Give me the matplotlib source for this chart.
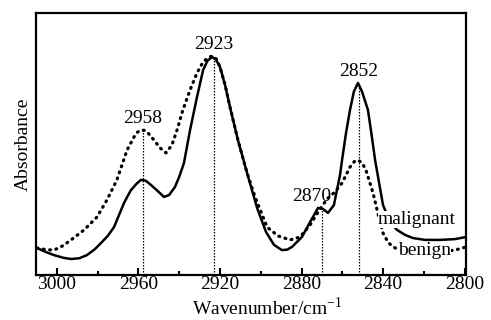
import matplotlib
matplotlib.use("Agg")
import matplotlib.pyplot as plt

plt.rcParams["font.family"] = ["Liberation Serif", "DejaVu Serif"]
plt.rcParams["mathtext.fontset"] = "custom"
plt.rcParams["mathtext.rm"] = "Liberation Serif"

# ---------------------------------------------------------------------------
# Data (absorbance in arbitrary units)
# ---------------------------------------------------------------------------

wn_malignant = [3009.8, 3005.5, 3001.5, 2997.0, 2993.1, 2989.0, 2985.3, 2981.5,
                2978.4, 2975.0, 2972.0, 2969.5, 2967.1, 2965.2, 2963.7, 2961.0,
                2958.8, 2956.5, 2953.9, 2950.5, 2947.5, 2945.0, 2942.1, 2940.0,
                2937.7, 2934.7, 2931.3, 2928.3, 2926.2, 2923.9, 2922.0, 2920.0,
                2917.5, 2915.1, 2911.2, 2906.7, 2901.8, 2897.4, 2893.5, 2889.6,
                2887.0, 2884.7, 2879.8, 2875.8, 2871.9, 2869.5, 2867.0, 2864.1,
                2861.1, 2860.1, 2858.2, 2856.2, 2854.3, 2852.3, 2850.3, 2847.4,
                2845.7, 2843.9, 2840.0, 2836.6, 2833.1, 2829.2, 2825.3, 2819.4,
                2812.0, 2804.7, 2799.3]
abs_malignant = [0.103, 0.088, 0.076, 0.066, 0.061, 0.064, 0.076, 0.098,
                 0.122, 0.150, 0.183, 0.230, 0.275, 0.303, 0.324, 0.348,
                 0.363, 0.360, 0.344, 0.320, 0.298, 0.305, 0.336, 0.375,
                 0.427, 0.553, 0.679, 0.782, 0.817, 0.832, 0.822, 0.794,
                 0.725, 0.641, 0.515, 0.389, 0.256, 0.164, 0.115, 0.095,
                 0.097, 0.107, 0.145, 0.202, 0.256, 0.252, 0.237, 0.267,
                 0.382, 0.439, 0.540, 0.630, 0.700, 0.733, 0.700, 0.630,
                 0.540, 0.439, 0.267, 0.202, 0.172, 0.153, 0.141, 0.134,
                 0.134, 0.137, 0.145]

wn_benign = [3009.8, 3005.5, 3001.5, 2997.0, 2993.1, 2986.7, 2980.4, 2975.5,
             2970.6, 2965.6, 2962.2, 2960.5, 2958.8, 2957.0, 2955.3, 2952.4,
             2949.4, 2946.5, 2943.6, 2941.1, 2938.2, 2934.7, 2931.3, 2928.3,
             2925.4, 2923.4, 2921.8, 2920.0, 2917.5, 2915.1, 2911.2, 2906.7,
             2902.8, 2896.9, 2891.5, 2885.6, 2880.7, 2875.8, 2871.9, 2867.5,
             2863.6, 2860.1, 2856.2, 2854.2, 2852.3, 2850.3, 2848.4, 2844.9,
             2842.5, 2840.0, 2837.5, 2835.1, 2829.2, 2821.8, 2812.0, 2804.7,
             2799.3]
abs_benign = [0.103, 0.097, 0.095, 0.112, 0.134, 0.172, 0.221, 0.286,
              0.363, 0.477, 0.527, 0.545, 0.553, 0.552, 0.542, 0.515,
              0.485, 0.466, 0.496, 0.553, 0.630, 0.706, 0.771, 0.813,
              0.832, 0.836, 0.824, 0.794, 0.725, 0.641, 0.515, 0.389,
              0.298, 0.183, 0.149, 0.134, 0.145, 0.191, 0.240, 0.290,
              0.317, 0.351, 0.412, 0.432, 0.439, 0.428, 0.401, 0.313,
              0.235, 0.160, 0.125, 0.107, 0.088, 0.084, 0.088, 0.095,
              0.107]

peak_wn = [2958, 2923, 2870, 2852]
peak_abs = [0.553, 0.836, 0.256, 0.733]
peak_labels = ["2958", "2923", "2870", "2852"]

xticks_major = [3000, 2960, 2920, 2880, 2840, 2800]
xticks_minor = [2980, 2940, 2900, 2860, 2820]

# ---------------------------------------------------------------------------
# Plot
# ---------------------------------------------------------------------------

fig = plt.figure(figsize=(4.91, 3.20), dpi=100)
ax = fig.add_axes([0.0733, 0.1406, 0.8757, 0.8188])

ax.plot(wn_malignant, abs_malignant, color="black", lw=1.8,
        solid_capstyle="round", solid_joinstyle="round")
ax.plot(wn_benign, abs_benign, color="black", lw=2.3,
        linestyle=(0, (0.3, 1.7)), dash_capstyle="round")

# vertical marker lines from each peak down to the axis
for wn, a, lab in zip(peak_wn, peak_abs, peak_labels):
    ax.plot([wn, wn], [0, a], color="black", lw=0.9, linestyle=(0, (1.2, 1.2)))
    dx = -7 if lab == "2870" else 0
    ax.annotate(lab, (wn, a), xytext=(dx, 2), textcoords="offset points",
                ha="center", va="bottom", fontsize=14)

ax.text(2842.5, 0.21, "malignant", fontsize=14, va="center", ha="left",
        bbox=dict(facecolor="white", edgecolor="none", pad=0))
ax.text(2832.7, 0.095, "benign", fontsize=14, va="center", ha="left",
        bbox=dict(facecolor="white", edgecolor="none", pad=0))

ax.set_xlim(3010.3, 2799.3)
ax.set_ylim(0, 1)
ax.set_xticks(xticks_major)
ax.set_xticklabels([str(t) for t in xticks_major])
ax.set_xticks(xticks_minor, minor=True)
ax.set_yticks([])
ax.tick_params(axis="x", which="major", direction="in", length=5, width=1.5,
               labelsize=14, pad=1)
ax.tick_params(axis="x", which="minor", direction="in", length=3, width=1.5)

for s in ax.spines.values():
    s.set_linewidth(1.6)

ax.set_xlabel(r"Wavenumber/cm$^{\mathregular{-1}}$", fontsize=14, labelpad=0)
ax.xaxis.set_label_coords(0.537, -0.083)
ax.set_ylabel("Absorbance", fontsize=14, labelpad=3)

fig.savefig("out.png", dpi=100)
